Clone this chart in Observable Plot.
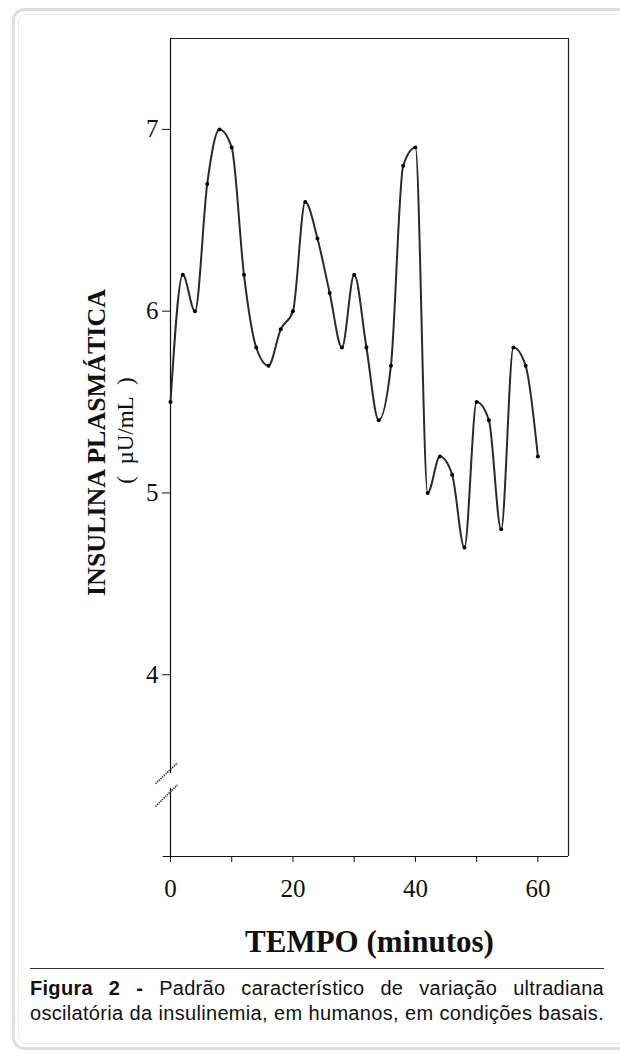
<!DOCTYPE html>
<html>
<head>
<meta charset="utf-8">
<script src="https://cdn.jsdelivr.net/npm/d3@7"></script>
<script src="https://cdn.jsdelivr.net/npm/@observablehq/plot@0.6"></script>
<style>
  html, body { margin: 0; padding: 0; background: #fff; overflow: hidden; }
  #page { position: relative; width: 620px; height: 1053px; overflow: hidden; }
  #card { position: absolute; left: 12px; top: 8px; width: 640px; height: 1036px;
          border: 3px solid #e0e0e0; border-radius: 12px; }
  #cardInner { position: absolute; left: 3px; top: 3px; right: 3px; bottom: 3px;
          border: 1px solid #ebebeb; border-radius: 8px; }
  #chart { position: absolute; left: 0; top: 0; }
  #rule { position: absolute; left: 30px; top: 968px; width: 574px; height: 0; border-top: 1px solid #333; }
  .cap { position: absolute; left: 30px; width: 574px; font-family: "Liberation Sans", Arial, sans-serif;
         font-size: 20px; letter-spacing: 0.3px; color: #111; white-space: nowrap; line-height: 1; }
  #cap1 { top: 978px; text-align: justify; text-align-last: justify; white-space: normal; }
  #cap2 { top: 1003px; text-align: justify; text-align-last: justify; }
</style>
</head>
<body>
<div id="page">
  <div id="card"><div id="cardInner"></div></div>
  <div id="chart"></div>
  <div id="rule"></div>
  <div class="cap" id="cap1"><b>Figura 2 -</b> Padrão característico de variação ultradiana</div>
  <div class="cap" id="cap2">oscilatória da insulinemia, em humanos, em condições basais.</div>
</div>
<script>
// Data
const minutes = [0, 2, 4, 6, 8, 10, 12, 14, 16, 18, 20, 22, 24, 26, 28, 30,
                 32, 34, 36, 38, 40, 42, 44, 46, 48, 50, 52, 54, 56, 58, 60];
const insulin = [5.5, 6.2, 6.0, 6.7, 7.0, 6.9, 6.2, 5.8, 5.7, 5.9, 6.0, 6.6, 6.4, 6.1, 5.8, 6.2,
                 5.8, 5.4, 5.7, 6.8, 6.9, 5.0, 5.2, 5.1, 4.7, 5.5, 5.4, 4.8, 5.8, 5.7, 5.2];
const yTicks = [4, 5, 6, 7];
const xTicks = [0, 10, 20, 30, 40, 50, 60];
const xLabeled = [0, 20, 40, 60];
const yTitle = "INSULINA PLASMÁTICA";
const yUnits = "(\u00a0\u00a0µU/mL\u00a0\u00a0)";
const xTitle = "TEMPO (minutos)";

const data = minutes.map((m, i) => ({minute: m, value: insulin[i]}));

// axis break decoration (in data units)
const breakSlashes = [
  {x1: -2.45, y1: 3.40, x2: 1.15, y2: 3.515},
  {x1: -2.45, y1: 3.275, x2: 1.15, y2: 3.395}
];

const chart = Plot.plot({
  width: 620,
  height: 960,
  marginLeft: 170,
  marginRight: 52,
  marginTop: 38,
  marginBottom: 104,
  x: {domain: [0, 65]},
  y: {domain: [3, 7.5]},
  style: {fontFamily: "'Liberation Serif', 'Times New Roman', serif", fontSize: "24px", background: "transparent", color: "#111"},
  marks: [
    Plot.ruleY([7.5], {x1: 0, x2: 65, stroke: "#222", strokeWidth: 1.2}),
    Plot.ruleX([65], {y1: 3, y2: 7.5, stroke: "#222", strokeWidth: 1.2}),
    Plot.ruleY([3], {x1: -1.2, x2: 65, stroke: "#111", strokeWidth: 1.2}),
    Plot.ruleX([0], {y1: 3.455, y2: 7.5, stroke: "#111", strokeWidth: 1.2}),
    Plot.ruleX([0], {y1: 3, y2: 3.375, stroke: "#111", strokeWidth: 1.2}),
    Plot.link(breakSlashes, {x1: "x1", y1: "y1", x2: "x2", y2: "y2", stroke: "#444", strokeWidth: 1.6, strokeDasharray: "1.5,0.8"}),
    Plot.axisY({ticks: yTicks, tickFormat: d => String(d), tickSize: 8, tickPadding: 4, fontSize: 25, label: null, stroke: "#111"}),
    Plot.axisX({ticks: xTicks, tickFormat: d => xLabeled.includes(d) ? String(d) : "", tickSize: 6, tickPadding: 17, fontSize: 25, label: null, stroke: "#111"}),
    Plot.line(data, {x: "minute", y: "value", curve: "monotone-x", stroke: "#2a2a2a", strokeWidth: 2}),
    Plot.dot(data, {x: "minute", y: "value", r: 2, fill: "#000", stroke: "none"}),
    Plot.text([yTitle], {frameAnchor: "left", textAnchor: "middle", rotate: -90, dx: -74, dy: -5, fontWeight: "bold", fontSize: 26}),
    Plot.text([yUnits], {frameAnchor: "left", textAnchor: "middle", rotate: -90, dx: -45, dy: -17, fontSize: 23}),
    Plot.text([xTitle], {frameAnchor: "bottom", lineAnchor: "bottom", dy: 95, fontWeight: "bold", fontSize: 31})
  ]
});
document.getElementById("chart").appendChild(chart);
</script>
</body>
</html>
